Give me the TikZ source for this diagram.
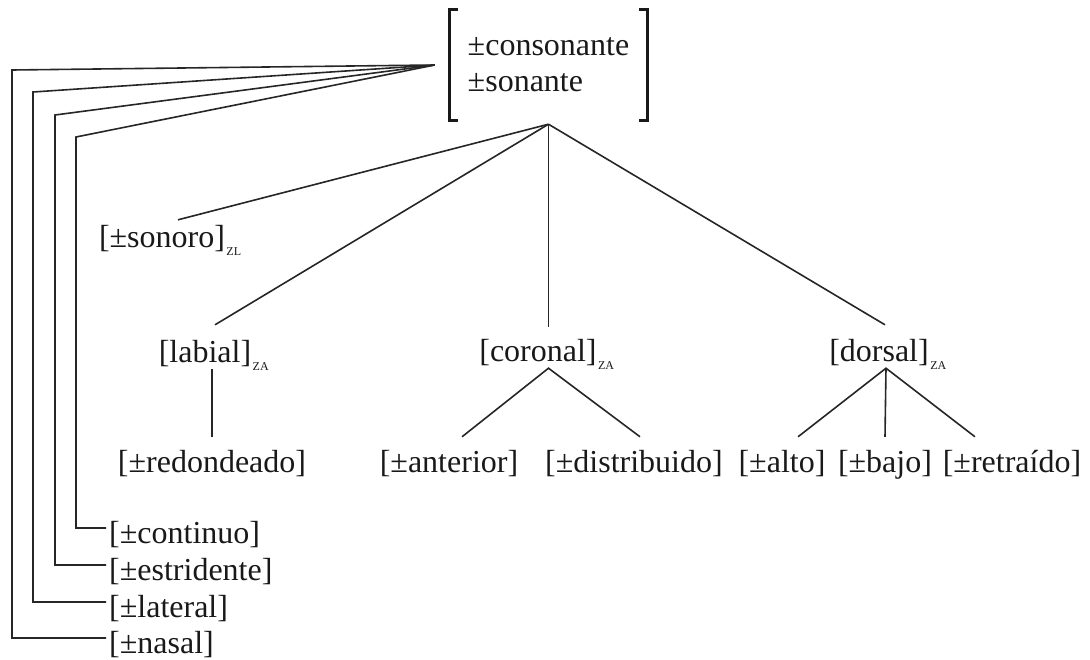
\documentclass[tikz,border=0pt]{standalone}
\usepackage{fontspec}
\setmainfont{Liberation Serif}
\usetikzlibrary{calc}
\newcommand{\zsub}[1]{\rlap{\kern1.5pt\raisebox{-8pt}{\fontsize{12}{12}\selectfont #1}}}
\begin{document}
\begin{tikzpicture}[x=1pt,y=-1pt,
  lbl/.style={font=\fontsize{32}{36}\selectfont, text=black!90, inner xsep=3pt, inner ysep=0pt, text height=23pt, text depth=7pt},
  edge/.style={line width=1.6pt, black!85},
  brk/.style={line width=3.2pt, black!90}]
\useasboundingbox (0,0) rectangle (1090,659);

% top node with brackets
\node[font=\fontsize{32}{36}\selectfont, text=black!90, align=left, inner sep=0pt,
      minimum width=197pt, minimum height=110pt] (top) at (548.5,65) {±consonante\\±sonante};
\draw[brk] ([xshift=8pt]top.north west) -- (top.north west) -- (top.south west) -- ([xshift=8pt]top.south west);
\draw[brk] ([xshift=-8pt]top.north east) -- (top.north east) -- (top.south east) -- ([xshift=-8pt]top.south east);
\coordinate (conv) at ([xshift=-15pt]top.west);
\coordinate (apex) at ([yshift=-4pt]top.south);

% left list
\node[lbl, anchor=base west] (cont) at (106,543) {[±continuo]};
\node[lbl, anchor=base west] (estr) at (106,580) {[±estridente]};
\node[lbl, anchor=base west] (late) at (106,617) {[±lateral]};
\node[lbl, anchor=base west] (nasa) at (106,653) {[±nasal]};
\coordinate (k1) at (12,70);
\coordinate (k2) at (33,92);
\coordinate (k3) at (55,115);
\coordinate (k4) at (76,137);
\draw[edge] (conv) -- (k1) |- ([yshift=15pt]nasa.base west);
\draw[edge] (conv) -- (k2) |- ([yshift=15pt]late.base west);
\draw[edge] (conv) -- (k3) |- ([yshift=15pt]estr.base west);
\draw[edge] (conv) -- (k4) |- ([yshift=15pt]cont.base west);

% tree nodes
\node[lbl, anchor=base] (son) at (162,247) {[±sonoro]\zsub{ZL}};
\node[lbl, anchor=base] (lab) at (205,362) {[labial]\zsub{ZA}};
\node[lbl, anchor=base] (cor) at (538,361) {[coronal]\zsub{ZA}};
\node[lbl, anchor=base] (dor) at (879,361) {[dorsal]\zsub{ZA}};
\node[lbl, anchor=base] (red) at (212,472) {[±redondeado]};
\node[lbl, anchor=base] (ant) at (449,472) {[±anterior]};
\node[lbl, anchor=base] (dis) at (634,472) {[±distribuido]};
\node[lbl, anchor=base] (alt) at (782,472) {[±alto]};
\node[lbl, anchor=base] (baj) at (885,472) {[±bajo]};
\node[lbl, anchor=base] (ret) at (1012,472) {[±retraído]};

% connectors
\draw[edge] (apex) -- ([xshift=16pt,yshift=4pt]son.north);
\draw[edge] (apex) -- ([xshift=10pt,yshift=14pt]lab.north);
\draw[edge] (apex) -- ($(apex |- cor.north)+(0,-11)$);
\draw[edge] (apex) -- ([xshift=6pt,yshift=13pt]dor.north);

\draw[edge] (red.north |- lab.south) -- ([yshift=12pt]red.north);
\coordinate (capex) at (apex |- cor.south);
\draw[edge] ([xshift=13pt,yshift=12pt]ant.north) -- (capex) -- ([xshift=6pt,yshift=12pt]dis.north);
\coordinate (dapex) at ([xshift=7pt]dor.south);
\draw[edge] ([xshift=16pt,yshift=12pt]alt.north) -- (dapex) -- ([xshift=-37pt,yshift=12pt]ret.north);
\draw[edge] (dapex) -- ([yshift=12pt]baj.north);
\end{tikzpicture}
\end{document}
